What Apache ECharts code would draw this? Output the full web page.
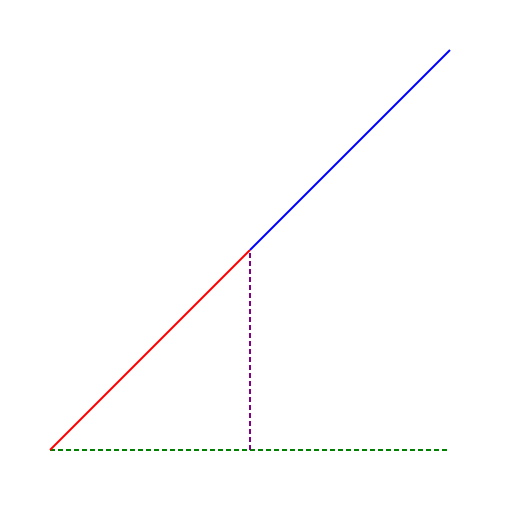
<!DOCTYPE html>
<html>
<head>
<meta charset="utf-8">
<script src="https://cdn.jsdelivr.net/npm/echarts@6/dist/echarts.min.js"></script>
<style>html,body{margin:0;padding:0;background:#fff}#chart{width:512px;height:512px}</style>
</head>
<body>
<div id="chart"></div>
<script>
// segments as [x, y] pairs
var redLine = [[0, 0], [1, 1]];
var blueLine = [[1, 1], [2, 2]];
var purpleLine = [[1, 0], [1, 1]];
var greenLine = [[0, 0], [2, 0]];

var myChart = echarts.init(document.getElementById('chart'));

function seg(data, color, dashed) {
    return {
        type: 'line',
        data: data,
        symbol: 'none',
        animation: false,
        lineStyle: { color: color, width: 2, type: dashed ? [5, 3] : 'solid' }
    };
}

var option = {
    grid: { left: 50, right: 62, top: 50, bottom: 62 },
    xAxis: { type: 'value', min: 0, max: 2, show: false },
    yAxis: { type: 'value', min: 0, max: 2, show: false },
    series: [
        seg(greenLine, 'green', true),
        seg(purpleLine, 'purple', true),
        seg(redLine, 'red', false),
        seg(blueLine, 'blue', false)
    ]
};
myChart.setOption(option);
</script>
</body>
</html>
